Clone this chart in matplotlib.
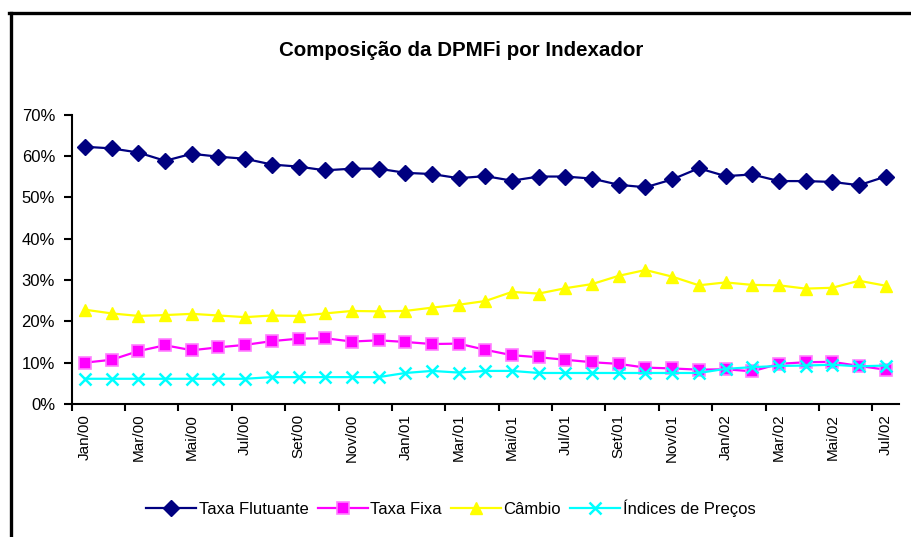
import matplotlib
matplotlib.use("Agg")
import matplotlib.pyplot as plt
from matplotlib.lines import Line2D
import numpy as np

plt.rcParams['font.family'] = ['Liberation Sans', 'DejaVu Sans']

months = ["Jan", "Fev", "Mar", "Abr", "Mai", "Jun", "Jul", "Ago", "Set", "Out", "Nov", "Dez"]
categories = [f"{m}/{y:02d}" for y in (0, 1, 2) for m in months][:31]

taxa_flutuante = [62.2, 61.8, 60.8, 58.8, 60.5, 59.8, 59.3, 57.9, 57.4, 56.5, 56.9, 56.9,
                  55.9, 55.6, 54.6, 55.1, 54.0, 55.0, 55.0, 54.5, 53.0, 52.4, 54.3, 57.0,
                  55.1, 55.5, 53.9, 53.9, 53.7, 52.9, 55.0]
taxa_fixa = [10.0, 10.7, 12.8, 14.2, 13.0, 13.7, 14.3, 15.2, 15.8, 15.9, 15.1, 15.4,
             15.0, 14.5, 14.6, 13.1, 11.8, 11.3, 10.7, 10.1, 9.7, 8.8, 8.6, 8.3,
             8.4, 7.9, 9.7, 10.1, 10.2, 9.2, 8.3]
cambio = [22.8, 21.9, 21.3, 21.5, 21.8, 21.4, 21.0, 21.4, 21.3, 21.9, 22.5, 22.4,
          22.5, 23.3, 24.0, 24.9, 27.1, 26.7, 28.0, 29.0, 31.0, 32.4, 30.8, 28.7,
          29.4, 28.8, 28.7, 27.9, 28.1, 29.8, 28.6]
indices_precos = [6.1, 6.1, 6.1, 6.1, 6.1, 6.1, 6.1, 6.5, 6.5, 6.5, 6.5, 6.5,
                  7.5, 8.0, 7.6, 8.0, 8.0, 7.5, 7.5, 7.5, 7.5, 7.5, 7.5, 7.5,
                  8.5, 8.9, 9.2, 9.3, 9.5, 9.1, 9.3]
series_names = ["Taxa Flutuante", "Taxa Fixa", "Câmbio", "Índices de Preços"]
yticks = [0, 10, 20, 30, 40, 50, 60, 70]
title = "Composição da DPMFi por Indexador"

W, H = 911, 537
fig = plt.figure(figsize=(W / 100, H / 100), dpi=100)
ax = fig.add_axes([71.7 / W, 1 - 404 / H, (899 - 71.7) / W, (404 - 114.5) / H])

x = np.arange(len(categories))
lw = 1.6
ax.plot(x, taxa_flutuante, color="#000080", lw=lw, marker="D", ms=8,
        mfc="#000080", mec="#000080", label=series_names[0], clip_on=False)
ax.plot(x, taxa_fixa, color="#FF00FF", lw=lw, marker="s", ms=8,
        mfc="#FF00FF", mec="#FF80FF", mew=1.2, label=series_names[1], clip_on=False)
ax.plot(x, cambio, color="#FFFF00", lw=lw, marker="^", ms=9,
        mfc="#FFFF00", mec="#FFFF00", label=series_names[2], clip_on=False)
ax.plot(x, indices_precos, color="#00FFFF", lw=lw, marker="x", ms=9,
        mew=1.8, mec="#00FFFF", label=series_names[3], clip_on=False)

ax.set_xlim(-0.5, len(categories) - 0.5)
ax.set_ylim(0, 70)
ax.set_yticks(yticks)
ax.set_yticklabels([f"{v}%" for v in yticks], fontsize=12)

ax.set_xticks(np.arange(-0.5, len(categories) - 1, 2))
ax.set_xticklabels([])
ax.set_xticks(x[::2], minor=True)
ax.set_xticklabels(categories[::2], minor=True, rotation=90, fontsize=11)
ax.tick_params(axis="x", which="major", direction="out", length=5, width=1.5)
ax.tick_params(axis="x", which="minor", length=0, pad=7)
ax.tick_params(axis="y", direction="out", length=6, width=1.5, pad=6)

for s in ("top", "right"):
    ax.spines[s].set_visible(False)
for s in ("left", "bottom"):
    ax.spines[s].set_linewidth(1.5)
    ax.spines[s].set_color("black")

fig.text(461 / W, 1 - 50 / H, title, ha="center", va="center",
         fontsize=14.8, fontweight="bold")

leg = fig.legend(loc="center", bbox_to_anchor=(451 / W, 1 - 508 / H), ncol=4,
                 frameon=False, fontsize=12, handlelength=3.0, handletextpad=0.15,
                 columnspacing=0.55, borderaxespad=0)

# outer frame (left and top edges visible)
fig.add_artist(Line2D([10.5 / W, 10.5 / W], [0, 1 - 13 / H], color="black",
                      lw=2.4, transform=fig.transFigure))
fig.add_artist(Line2D([9.3 / W, 1], [1 - 13 / H, 1 - 13 / H], color="black",
                      lw=2.4, transform=fig.transFigure))

fig.savefig("out.png", dpi=100)
